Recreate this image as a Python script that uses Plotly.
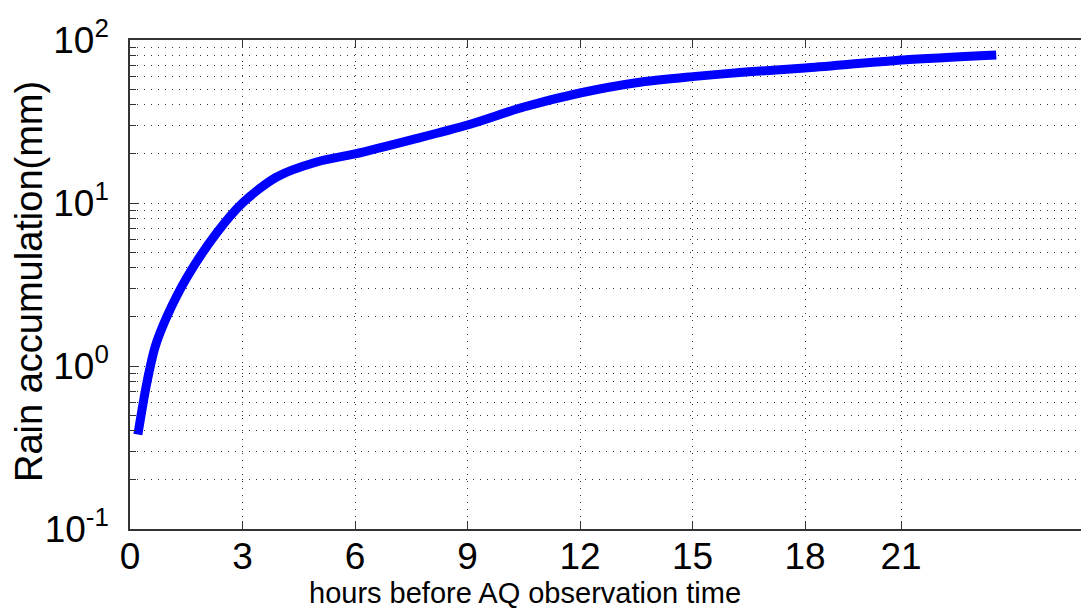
import plotly.graph_objects as go

# data
hours = [0.21, 0.45, 0.67, 0.98, 1.52, 2.3, 3.0, 3.9, 5.0, 6.0, 7.5, 9.0, 10.5, 12.0, 13.5, 15.0, 16.5, 18.0, 20.6, 23.1]
rain_mm = [0.38, 0.79, 1.31, 2.0, 3.5, 6.5, 10.0, 14.4, 17.9, 20.0, 24.4, 30.1, 38.8, 47.3, 54.7, 59.6, 63.8, 67.3, 75.4, 80.9]

x_tick_vals = [0, 3, 6, 9, 12, 15, 18, 20.56]
x_tick_text = ["0", "3", "6", "9", "12", "15", "18", "21"]
y_tick_vals = [0.1, 1, 10, 100]
y_tick_text = ["10<sup>-1</sup>", "10<sup>0</sup>", "10<sup>1</sup>", "10<sup>2</sup>"]
y_minor_vals = [m * d for d in (0.1, 1, 10) for m in range(2, 10)]

x_title = "hours before AQ observation time"
y_title = "Rain accumulation(mm)"

FONT = "Liberation Sans, Arial, sans-serif"
DOT = "1px,6px"

fig = go.Figure()
fig.add_trace(go.Scatter(x=hours, y=rain_mm, mode="lines",
                         line=dict(color="#0000ff", width=9, shape="spline", smoothing=0.8),
                         showlegend=False))

fig.update_layout(
    width=1089, height=613,
    margin=dict(l=122, r=8, t=32, b=92),
    paper_bgcolor="white", plot_bgcolor="white",
    font=dict(family=FONT, size=37, color="black"),
    xaxis=dict(
        range=[0, 959 / 37.5], automargin=False,
        tickmode="array", tickvals=x_tick_vals, ticktext=x_tick_text,
        ticks="inside", ticklen=8, tickwidth=1, tickcolor="#333",
        showline=True, linecolor="#333", linewidth=1.5, mirror="ticks",
        showgrid=True, gridcolor="#333", griddash=DOT, gridwidth=1,
        zeroline=False, ticklabelstandoff=-6,
        tickfont=dict(size=37),
    ),
    yaxis=dict(
        type="log", range=[-1, 2], automargin=False,
        tickmode="array", tickvals=y_tick_vals, ticktext=y_tick_text,
        ticks="inside", ticklen=9, tickwidth=1, tickcolor="#333",
        showline=True, linecolor="#333", linewidth=1.5, mirror=False,
        showgrid=True, gridcolor="#333", griddash=DOT, gridwidth=1,
        zeroline=False, ticklabelstandoff=12,
        tickfont=dict(size=37),
        minor=dict(tickmode="array", tickvals=y_minor_vals, ticks="inside",
                   ticklen=6, tickcolor="#333", showgrid=True,
                   gridcolor="#333", griddash=DOT, gridwidth=1),
    ),
    annotations=[
        dict(text=x_title, xref="paper", yref="paper",
             x=(525 - 130) / 959, y=0, yshift=-64, xanchor="center", yanchor="middle",
             showarrow=False, font=dict(size=29, family=FONT)),
        dict(text=y_title, xref="paper", yref="paper", textangle=-90,
             x=0, y=0.505, xshift=-101, xanchor="center", yanchor="middle",
             showarrow=False, font=dict(size=38, family=FONT)),
    ],
)

fig.write_html("out.html")
